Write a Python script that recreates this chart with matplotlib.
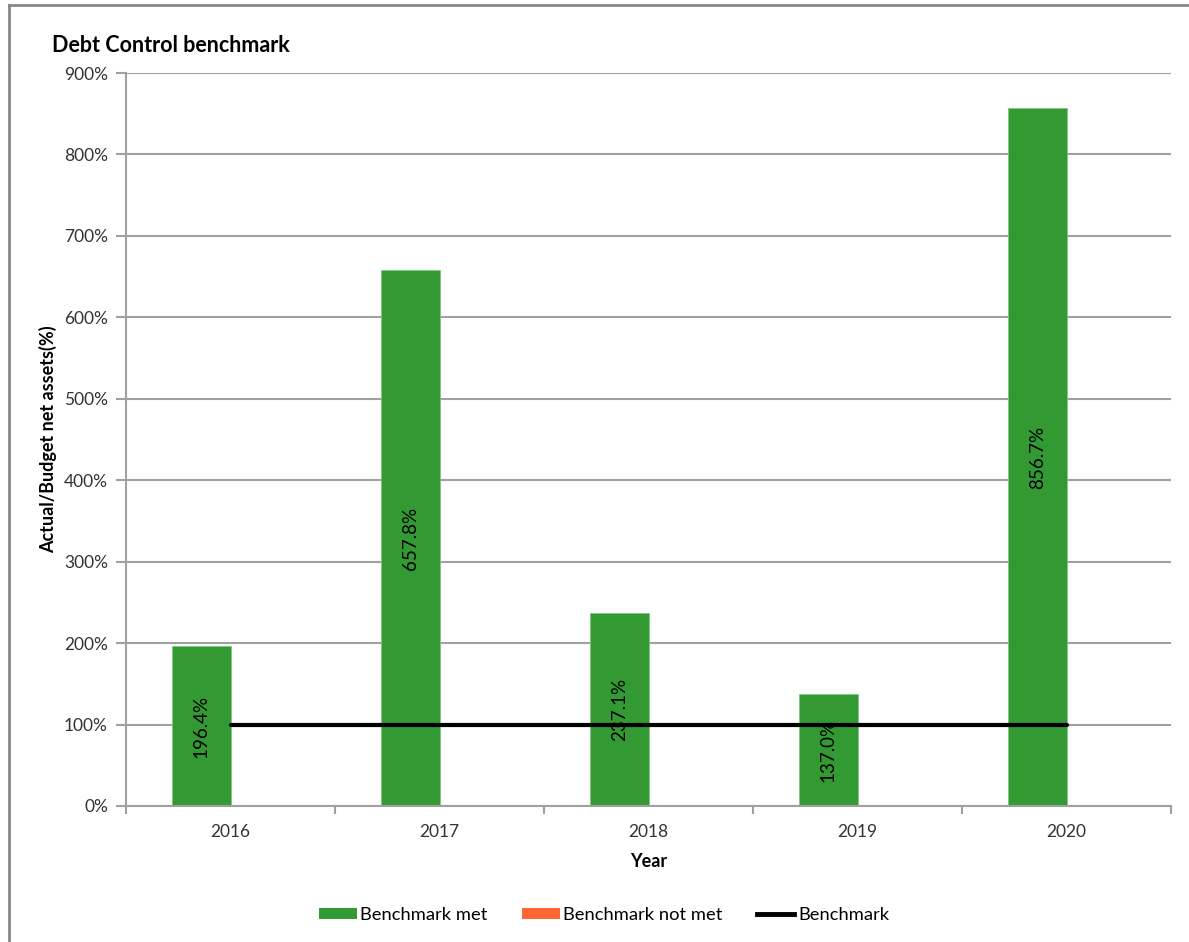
import numpy as np
import matplotlib
matplotlib.use("Agg")
import matplotlib.pyplot as plt
from matplotlib.patches import Patch
from matplotlib.lines import Line2D

# Dados
anos = ["2016", "2017", "2018", "2019", "2020"]
met = [196.4, 657.8, 237.1, 137.0, 856.7]
not_met = [0, 0, 0, 0, 0]
benchmark = [100, 100, 100, 100, 100]

verde = "#339933"
laranja = "#FF6633"
cinza = "#A0A0A0"

plt.rcParams['font.family'] = ['Lato', 'DejaVu Sans']

fig = plt.figure(figsize=(11.89, 9.42), dpi=100)
ax = fig.add_axes([0.106, 0.1444, 0.879, 0.7781])

x = np.arange(len(anos))
w = 0.28
ax.bar(x - w/2, met, width=w, color=verde, edgecolor="#7FC77F", linewidth=0.6, zorder=2)
ax.bar(x + w/2, not_met, width=w, color=laranja, linewidth=0, zorder=2)
ax.plot(x, benchmark, color="black", linewidth=3, solid_capstyle="round", zorder=4)

for xi, v in zip(x, met):
    ax.text(xi - w/2, v/2, f"{v:.1f}%", rotation=90, ha="center", va="center",
            fontsize=13.5, color="black", zorder=3)

ax.set_xlim(-0.5, len(anos) - 0.5)
ax.set_ylim(0, 900)
ax.set_yticks(np.arange(0, 901, 100))
ax.set_yticklabels([f"{int(t)}%" for t in np.arange(0, 901, 100)], fontsize=12.5, color="#333333")
ax.yaxis.grid(True, color=cinza, linewidth=1.5, zorder=0)
ax.set_axisbelow(True)

ax.set_xticks(np.arange(-0.5, len(anos), 1.0))
ax.set_xticklabels([])
ax.set_xticks(x, minor=True)
ax.set_xticklabels(anos, minor=True, fontsize=12.5, color="#333333")
ax.tick_params(axis="x", which="major", length=6, color=cinza, width=1.5)
ax.tick_params(axis="x", which="minor", length=0, pad=13)
ax.tick_params(axis="y", length=7, color=cinza, width=1.5, pad=6)

for s in ["top", "right"]:
    ax.spines[s].set_visible(False)
for s in ["left", "bottom"]:
    ax.spines[s].set_color(cinza)
    ax.spines[s].set_linewidth(1.5)

ax.set_xlabel("Year", fontsize=13, fontweight="bold", labelpad=9)
fig.text(0.040, 0.5335, "Actual/Budget net assets(%)", rotation=90, ha="center", va="center",
         fontsize=13, fontweight="bold")
fig.text(0.044, 0.952, "Debt Control benchmark", ha="left", va="center",
         fontsize=15.5, fontweight="bold")

handles = [Patch(facecolor=verde, edgecolor="none"),
           Patch(facecolor=laranja, edgecolor="none"),
           Line2D([0], [0], color="black", linewidth=3.5)]
fig.legend(handles, ["Benchmark met", "Benchmark not met", "Benchmark"],
           loc="center", bbox_to_anchor=(0.508, 0.0287), ncol=3, frameon=False,
           fontsize=13.2, handlelength=2.07, handleheight=0.5, handletextpad=0.2,
           columnspacing=1.85)

# borda da figura (só esquerda e topo aparecem)
fig.add_artist(Line2D([0.0072, 0.0072], [0, 0.9947], color="#888888", linewidth=2,
                      transform=fig.transFigure))
fig.add_artist(Line2D([0.0072, 1.0], [0.9947, 0.9947], color="#888888", linewidth=2,
                      transform=fig.transFigure))

fig.savefig("out.png", dpi=100)
